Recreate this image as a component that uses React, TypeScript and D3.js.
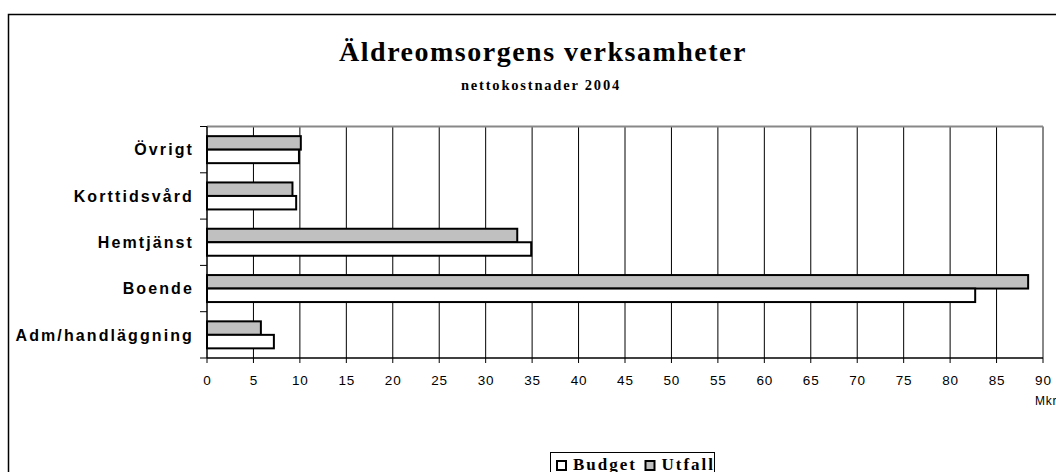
import React from "react";
import * as d3 from "d3";

const categories = ["Övrigt", "Korttidsvård", "Hemtjänst", "Boende", "Adm/handläggning"];
const seriesNames = ["Utfall", "Budget"];
const utfall = [10.1, 9.2, 33.4, 88.4, 5.8];
const budget = [9.9, 9.6, 34.9, 82.7, 7.2];
const xTicks = [0, 5, 10, 15, 20, 25, 30, 35, 40, 45, 50, 55, 60, 65, 70, 75, 80, 85, 90];
const title = "Äldreomsorgens verksamheter";
const subtitle = "nettokostnader 2004";
const unitLabel = "Mkr";

const SANS = "'Liberation Sans', Arial, sans-serif";
const SERIF = "'Liberation Serif', 'Times New Roman', serif";

export default function App() {
  const W = 1056;
  const H = 472;
  const left = 207;
  const right = 1043;
  const top = 126.5;
  const bottom = 358;

  const x = d3.scaleLinear().domain([0, 90]).range([left, right]);
  const y = d3.scaleBand<string>().domain(categories).range([top, bottom]).paddingInner(0).paddingOuter(0);
  const sub = d3.scaleBand<string>().domain(seriesNames).range([0, y.bandwidth()]).paddingInner(0).paddingOuter(0.715);
  const values: Record<string, number[]> = { Utfall: utfall, Budget: budget };
  const fills: Record<string, string> = { Utfall: "#c0c0c0", Budget: "#ffffff" };

  const catTicks = categories.map((c) => y(c) as number).concat([bottom]);

  return (
    <svg width={W} height={H} style={{ position: "absolute", left: 0, top: 0, background: "#fff" }}>
      <rect x={8.5} y={14.5} width={1200} height={600} fill="#fff" stroke="#000" strokeWidth={1.5} />

      <text x={543} y={61} textAnchor="middle" fontFamily={SERIF} fontWeight="bold" fontSize={28} letterSpacing={1.5}>
        {title}
      </text>
      <text x={541} y={89.5} textAnchor="middle" fontFamily={SERIF} fontWeight="bold" fontSize={14.5} letterSpacing={1.8}>
        {subtitle}
      </text>

      {/* gridlines */}
      {xTicks.filter((t) => t > 0 && t < 90).map((t) => (
        <line key={"g" + t} x1={x(t)} x2={x(t)} y1={top} y2={bottom} stroke="#000" strokeWidth={1} />
      ))}
      {/* plot frame top/right */}
      <line x1={left} x2={right} y1={top} y2={top} stroke="#888" strokeWidth={2} />
      <line x1={right} x2={right} y1={top} y2={bottom} stroke="#888" strokeWidth={2} />

      {/* bars */}
      {categories.map((c, i) =>
        seriesNames.map((s) => (
          <rect
            key={c + s}
            x={x(0)}
            y={(y(c) as number) + (sub(s) as number)}
            width={x(values[s][i]) - x(0)}
            height={sub.bandwidth()}
            fill={fills[s]}
            stroke="#000"
            strokeWidth={2}
          />
        ))
      )}

      {/* axes */}
      <line x1={left} x2={left} y1={top} y2={bottom} stroke="#000" strokeWidth={1.5} />
      <line x1={left} x2={right} y1={bottom} y2={bottom} stroke="#000" strokeWidth={1.5} />
      {catTicks.map((t, i) => (
        <line key={"ct" + i} x1={200} x2={left} y1={t} y2={t} stroke="#000" strokeWidth={1} />
      ))}
      {xTicks.map((t) => (
        <g key={"xt" + t}>
          <line x1={x(t)} x2={x(t)} y1={bottom} y2={bottom + 5} stroke="#000" strokeWidth={1} />
          <text x={x(t) + 0.4} y={384.5} textAnchor="middle" fontFamily={SANS} fontSize={13.5} letterSpacing={0.8}>
            {t}
          </text>
        </g>
      ))}
      <text x={1035} y={405} fontFamily={SANS} fontSize={12} letterSpacing={0.8}>
        {unitLabel}
      </text>

      {categories.map((c) => (
        <text
          key={"lab" + c}
          x={194}
          y={(y(c) as number) + y.bandwidth() / 2 + 5.7}
          textAnchor="end"
          fontFamily={SANS}
          fontWeight="bold"
          fontSize={16}
          letterSpacing={2.1}
        >
          {c}
        </text>
      ))}

      {/* legend */}
      <rect x={550.5} y={452.5} width={164} height={40} fill="#fff" stroke="#000" strokeWidth={1} />
      <rect x={557} y={461} width={9} height={9} fill={fills.Budget} stroke="#000" strokeWidth={2} />
      <text x={573} y={469.6} fontFamily={SERIF} fontWeight="bold" fontSize={17} letterSpacing={2}>
        Budget
      </text>
      <rect x={645.5} y={461} width={9} height={9} fill={fills.Utfall} stroke="#000" strokeWidth={2} />
      <text x={661.5} y={469.6} fontFamily={SERIF} fontWeight="bold" fontSize={17} letterSpacing={2}>
        Utfall
      </text>
    </svg>
  );
}
